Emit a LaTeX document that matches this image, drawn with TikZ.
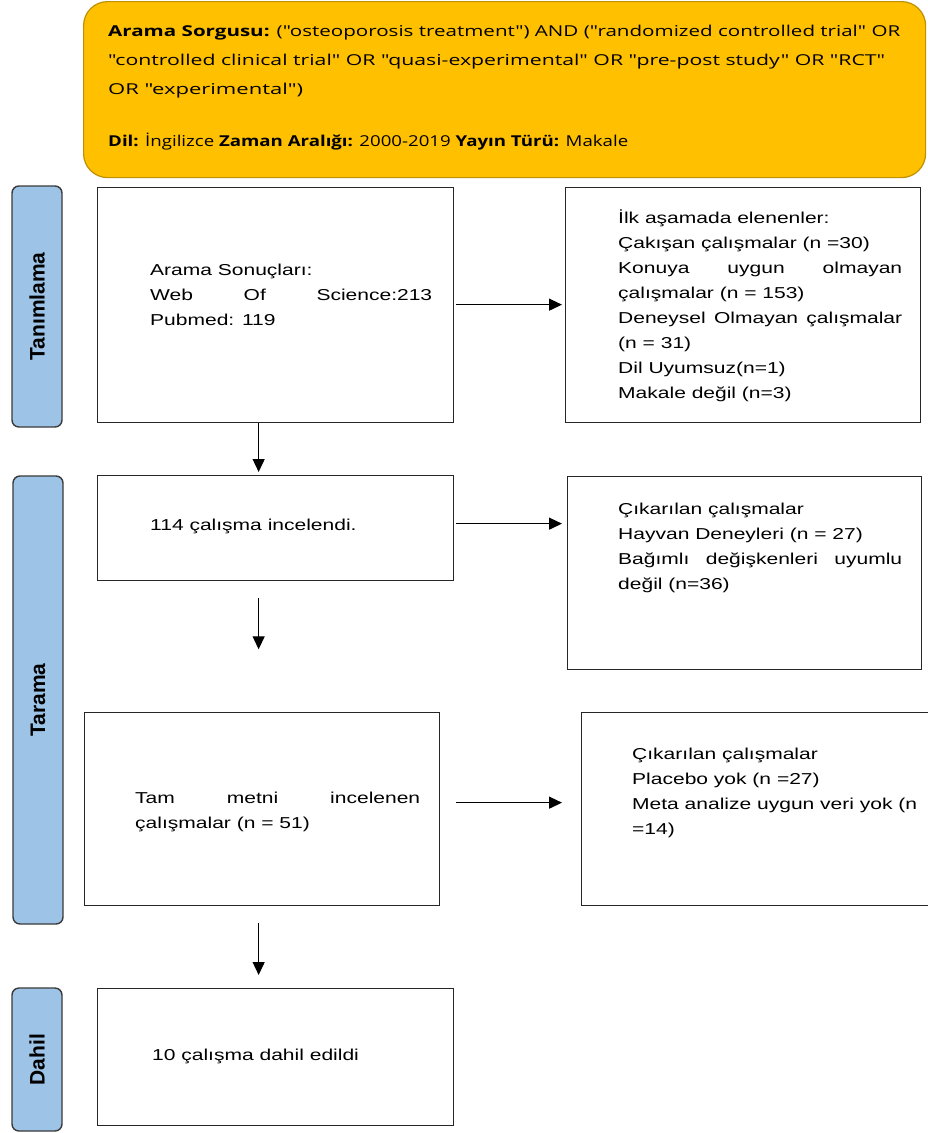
\documentclass[tikz,border=0pt]{standalone}
\usepackage{fontspec}
\usepackage{graphicx}
\setmainfont{Liberation Sans}
\newfontfamily\boxfont[FakeStretch=1.33]{Liberation Sans}
\newfontfamily\qfont{Open Sans}
\usetikzlibrary{arrows.meta,calc}
\definecolor{qyellow}{HTML}{FFC000}
\definecolor{qborder}{HTML}{BF9000}
\definecolor{sideblue}{HTML}{9DC3E6}
\definecolor{sideborder}{HTML}{3A3A3A}
\begin{document}
\begin{tikzpicture}[x=1pt,y=-1pt,
  querybox/.style={draw=qborder, fill=qyellow, line width=1.2pt, rounded corners=24pt, anchor=north west, inner sep=0pt},
  querytext/.style={font=\qfont\fontsize{15}{29}\selectfont, anchor=base west, inner sep=0pt, align=left},
  sidebox/.style={draw=sideborder, fill=sideblue, line width=1.4pt, rounded corners=7pt, rotate=90, inner sep=0pt, minimum height=50pt, font=\bfseries\fontsize{21}{24}\selectfont},
  flowbox/.style={draw=black!85, line width=1.3pt, anchor=north west, inner sep=0pt},
  boxtext/.style={font=\boxfont\fontsize{15.8}{24.9}\selectfont, anchor=base west, inner sep=0pt, align=left},
  arr/.style={line width=1.3pt, -{Triangle[length=13pt,width=12pt]}}
]
\useasboundingbox (0,0) rectangle (927,1133);

% query box
\node[querybox, minimum width=842pt, minimum height=176pt] (query) at (83,1) {};
\node[querytext] (qtext) at (108,146) {%
\resizebox{792pt}{\height}{\textbf{Arama Sorgusu:} ("osteoporosis treatment") AND ("randomized controlled trial" OR}\\
\resizebox{777pt}{\height}{"controlled clinical trial" OR "quasi-experimental" OR "pre-post study" OR "RCT"}\\
\resizebox{195pt}{\height}{OR "experimental")}\\[23pt]
\resizebox{520pt}{\height}{\textbf{Dil:} İngilizce \textbf{Zaman Aralığı:} 2000-2019 \textbf{Yayın Türü:} Makale}};

% side labels
\node[sidebox, minimum width=241pt] (tan) at (37,306.5) {Tanımlama};
\node[sidebox, minimum width=448pt] (tar) at (38,700) {Tarama};
\node[sidebox, minimum width=143pt] (dah) at (37,1059.5) {Dahil};

% left column
\node[flowbox, minimum width=356pt, minimum height=235pt] (b1) at (97,187) {};
\node[boxtext] (b1t) at (150,325) {Arama Sonuçları:\\
\makebox[282pt][s]{Web Of Science:213}\\
Pubmed: 119};

\node[flowbox, minimum width=356pt, minimum height=105pt] (b2) at (97,475) {};
\node[boxtext] (b2t) at (150,530) {114 çalışma incelendi.};

\node[flowbox, minimum width=355pt, minimum height=193pt] (b3) at (84,712) {};
\node[boxtext] (b3t) at (135,828) {\makebox[285pt][s]{Tam metni incelenen}\\
çalışmalar (n = 51)};

\node[flowbox, minimum width=356pt, minimum height=137pt] (b4) at (97,988) {};
\node[boxtext] (b4t) at (152,1060) {10 çalışma dahil edildi};

% right column
\node[flowbox, minimum width=355pt, minimum height=235pt] (r1) at (565,187) {};
\node[boxtext] (r1t) at (618,398) {İlk aşamada elenenler:\\
Çakışan çalışmalar (n =30)\\
\makebox[284pt][s]{Konuya uygun olmayan}\\
çalışmalar (n = 153)\\
\makebox[284pt][s]{Deneysel Olmayan çalışmalar}\\
(n = 31)\\
Dil Uyumsuz(n=1)\\
Makale değil (n=3)};

\node[flowbox, minimum width=354pt, minimum height=193pt] (r2) at (567,476) {};
\node[boxtext] (r2t) at (618,589) {Çıkarılan çalışmalar\\
Hayvan Deneyleri (n = 27)\\
\makebox[284pt][s]{Bağımlı değişkenleri uyumlu}\\
değil (n=36)};

\node[flowbox, minimum width=360pt, minimum height=193pt] (r3) at (581,712) {};
\node[boxtext] (r3t) at (632,834) {Çıkarılan çalışmalar\\
Placebo yok (n =27)\\
Meta analize uygun veri yok (n\\
=14)};

% vertical arrows
\draw[arr] ($(b1.south)+(-17,0)$) -- ($(b2.north)+(-17,-3)$);
\draw[arr] ($(b2.south)+(-17,17)$) -- ($(b2.south)+(-17,68)$);
\draw[arr] ($(b3.south)+(-3.5,17)$) -- ($(b4.north)+(-17,-13)$);

% horizontal arrows
\draw[arr] ($(b1.east)+(2,-0.5)$) -- ($(r1.west)+(-3,-0.5)$);
\draw[arr] ($(b2.east)+(2,-4.5)$) -- ($(b2.east -| r2.west)+(-5,-4.5)$);
\draw[arr] ($(b3.east)+(16,-6.5)$) -- ($(b3.east -| r3.west)+(-19,-6.5)$);
\end{tikzpicture}
\end{document}
